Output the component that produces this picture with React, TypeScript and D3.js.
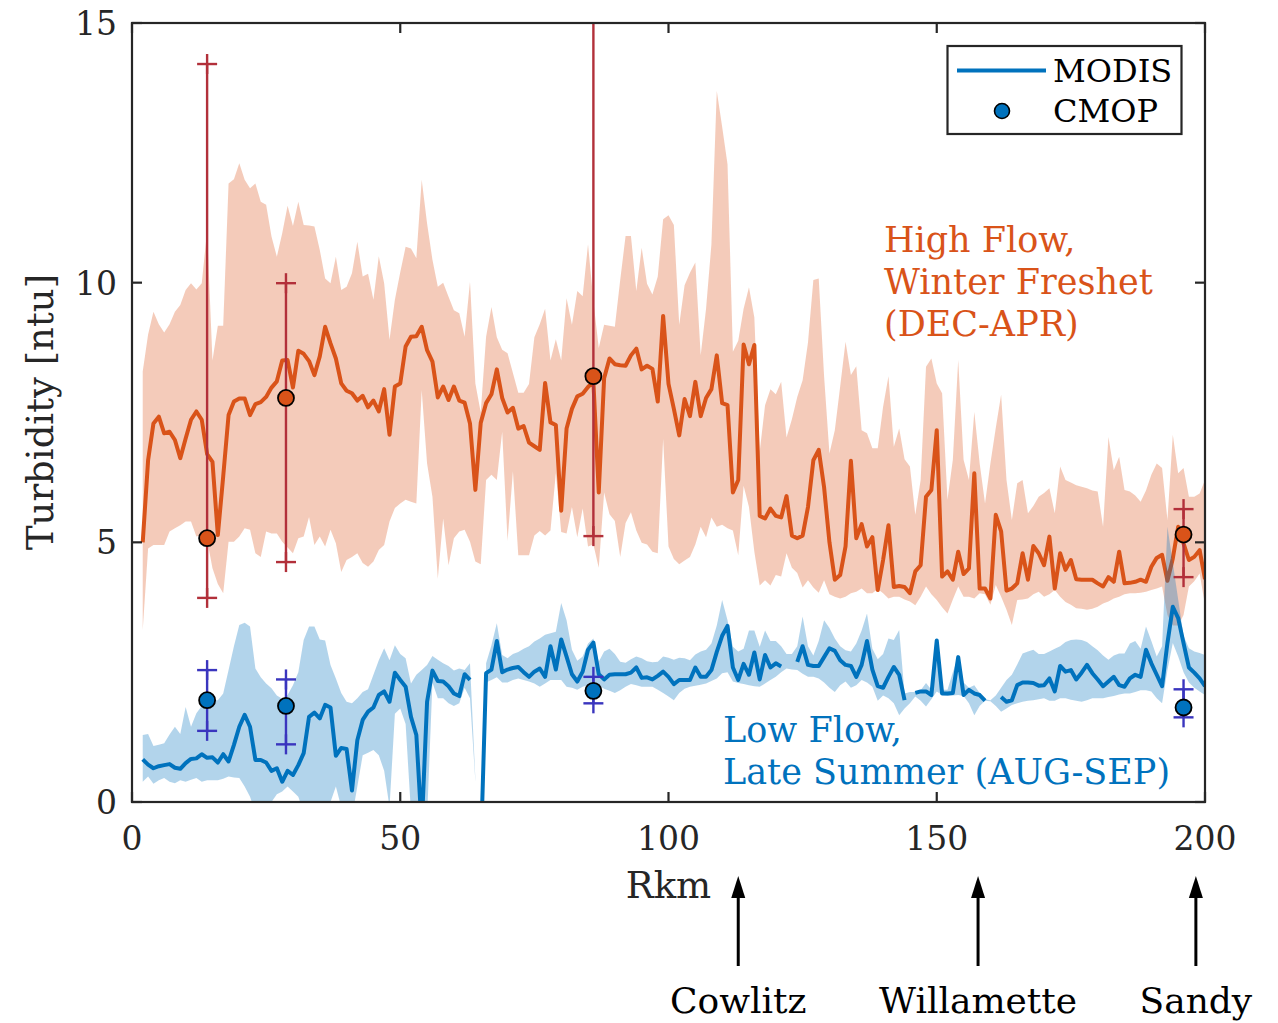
import React from "react";
import * as d3 from "d3";

// River kilometre of each MODIS sample (x positions of the series below)
const RKM: number[] = d3.range(2, 201);

// High flow (DEC-APR) MODIS mean and band
const HIGH_MEAN = [
  5.0, 6.58, 7.29, 7.42, 7.1, 7.13, 6.97, 6.62, 7.0, 7.36,
  7.52, 7.36, 6.7, 6.55, 5.14, 6.27, 7.45, 7.71, 7.77, 7.77,
  7.45, 7.66, 7.7, 7.8, 7.98, 8.1, 8.5, 8.51, 7.98, 8.69,
  8.63, 8.49, 8.22, 8.58, 9.15, 8.83, 8.54, 8.06, 7.92, 7.87,
  7.73, 7.82, 7.6, 7.73, 7.52, 7.95, 7.07, 8.0, 8.06, 8.77,
  8.96, 8.97, 9.15, 8.7, 8.48, 7.79, 8.0, 7.74, 8.0, 7.73,
  7.69, 7.29, 6.01, 7.3, 7.68, 7.85, 8.33, 7.78, 7.5, 7.59,
  7.19, 7.24, 6.92, 6.85, 6.78, 8.07, 7.31, 7.26, 5.61, 7.19,
  7.57, 7.81, 7.86, 7.99, 8.09, 5.96, 8.16, 8.54, 8.43, 8.41,
  8.4, 8.6, 8.73, 8.33, 8.4, 8.34, 7.71, 9.36, 8.05, 7.57,
  7.06, 7.76, 7.43, 8.09, 7.43, 7.78, 7.95, 8.6, 7.68, 7.64,
  5.96, 6.2, 8.81, 8.43, 8.8, 5.51, 5.46, 5.65, 5.51, 5.48,
  5.89, 5.13, 5.08, 5.13, 5.68, 6.58, 6.78, 6.06, 5.0, 4.28,
  4.37, 4.92, 6.57, 5.08, 5.35, 4.92, 5.1, 4.08, 4.66, 5.33,
  4.14, 4.16, 4.14, 4.02, 4.44, 4.56, 5.88, 6.01, 7.16, 4.34,
  4.44, 4.28, 4.82, 4.39, 4.5, 6.33, 4.11, 4.11, 3.92, 5.53,
  5.21, 4.07, 4.11, 4.21, 4.79, 4.28, 4.93, 4.79, 4.56, 5.11,
  4.11, 4.79, 4.47, 4.66, 4.29, 4.28, 4.28, 4.28, 4.21, 4.15,
  4.33, 4.24, 4.82, 4.21, 4.22, 4.24, 4.28, 4.24, 4.53, 4.7,
  4.76, 4.26, 4.69, 5.3, 4.98, 4.66, 4.72, 4.85, 4.29,
];
const HIGH_UPPER = [
  8.29, 9.0, 9.44, 9.2, 9.04, 9.2, 9.44, 9.57, 9.86, 9.99,
  9.87, 9.99, 11.0, 8.5, 9.17, 9.17, 11.91, 11.99, 12.3, 11.98,
  11.82, 11.91, 11.56, 11.5, 10.89, 10.5, 10.95, 11.48, 11.09, 11.56,
  11.11, 11.1, 11.08, 10.63, 10.08, 9.99, 10.5, 9.86, 9.92, 10.18,
  10.79, 10.12, 10.17, 9.67, 10.51, 9.99, 8.9, 9.67, 10.2, 10.69,
  10.66, 10.47, 11.98, 11.14, 10.44, 9.92, 10.0, 9.73, 9.47, 9.41,
  8.96, 10.02, 8.06, 7.5, 8.96, 9.53, 8.95, 8.71, 8.64, 8.26,
  7.88, 7.88, 8.05, 8.95, 9.2, 9.5, 8.5, 8.91, 8.5, 9.7,
  9.19, 9.84, 9.74, 10.74, 9.64, 8.74, 9.19, 9.17, 9.15, 10.05,
  10.9, 10.9, 9.84, 10.67, 9.98, 9.77, 10.12, 11.22, 11.3, 11.11,
  9.19, 9.95, 10.19, 10.39, 8.6, 9.5, 10.74, 13.69, 13.0, 12.28,
  8.67, 8.88, 9.5, 9.91, 9.33, 6.75, 7.64, 7.95, 7.85, 8.09,
  7.02, 7.37, 7.8, 8.12, 8.85, 10.05, 10.08, 8.2, 6.71, 7.16,
  8.0, 8.86, 8.22, 8.39, 7.16, 7.1, 6.81, 6.81, 7.61, 8.2,
  6.84, 7.19, 6.6, 6.46, 5.53, 6.2, 8.38, 8.54, 8.06, 7.87,
  5.82, 6.59, 8.51, 6.59, 6.2, 7.51, 6.52, 5.75, 6.52, 7.2,
  7.84, 6.2, 5.43, 6.14, 6.2, 5.56, 5.7, 5.88, 5.95, 6.04,
  5.56, 6.46, 6.2, 6.15, 6.1, 6.07, 6.04, 6.0, 5.98, 5.3,
  7.03, 6.39, 6.65, 6.01, 5.98, 5.9, 5.78, 6.0, 6.3, 6.52,
  6.43, 5.43, 7.07, 6.33, 6.43, 5.88, 5.88, 5.94, 6.2,
];
const HIGH_LOWER = [
  3.31, 4.88, 4.95, 4.95, 4.95, 5.21, 5.27, 5.33, 5.4, 5.4,
  5.11, 5.14, 5.05, 4.5, 4.2, 4.02, 5.01, 5.01, 5.11, 5.27,
  5.24, 4.79, 4.72, 5.21, 5.17, 5.17, 5.01, 4.9, 4.79, 5.08,
  5.11, 5.49, 4.95, 5.11, 4.92, 5.24, 4.98, 4.43, 4.66, 4.72,
  4.79, 4.6, 4.53, 4.63, 4.85, 4.95, 5.4, 5.66, 5.75, 5.82,
  5.78, 5.75, 7.93, 6.52, 5.88, 4.3, 5.46, 4.56, 5.08, 5.21,
  5.24, 5.01, 4.63, 4.58, 6.2, 6.3, 6.2, 7.13, 5.03, 6.37,
  4.75, 4.75, 4.75, 5.13, 5.22, 5.13, 5.23, 6.33, 5.2, 5.17,
  5.68, 5.1, 5.65, 4.92, 4.96, 4.51, 5.96, 5.54, 5.41, 4.72,
  5.37, 5.58, 5.23, 4.99, 4.96, 4.82, 4.79, 6.99, 4.92, 4.68,
  4.58, 4.65, 4.72, 4.96, 5.3, 5.1, 5.48, 5.3, 5.34, 5.27,
  5.23, 4.75, 6.09, 5.68, 4.82, 4.17, 4.27, 4.17, 4.37, 4.34,
  4.79, 4.51, 4.41, 4.13, 4.27, 4.13, 4.03, 4.27, 4.0, 3.95,
  3.92, 3.95, 4.02, 4.05, 4.11, 4.02, 4.02, 4.1, 4.02, 3.92,
  3.95, 3.95, 3.9, 3.86, 3.79, 3.95, 4.15, 4.0, 3.89, 3.75,
  3.63, 3.9, 4.15, 3.95, 3.95, 3.92, 4.02, 4.0, 3.8, 4.18,
  3.95, 3.7, 3.41, 3.89, 3.9, 3.92, 4.0, 4.05, 3.95, 4.0,
  4.08, 3.95, 3.85, 3.8, 3.73, 3.72, 3.7, 3.72, 3.76, 3.82,
  3.86, 3.92, 3.95, 4.0, 4.02, 4.02, 4.03, 4.05, 4.08, 4.11,
  4.15, 3.6, 3.4, 3.4, 3.6, 4.15, 4.25, 4.4, 3.8,
];

// Low flow (AUG-SEP) MODIS mean and band (null = no data)
const LOW_MEAN: (number | null)[] = [
  0.82, 0.72, 0.65, 0.69, 0.71, 0.73, 0.66, 0.64, 0.75, 0.83,
  0.84, 0.92, 0.85, 0.86, 0.76, 0.92, 0.78, 1.1, 1.45, 1.68,
  1.45, 0.81, 0.81, 0.76, 0.6, 0.65, 0.39, 0.6, 0.52, 0.71,
  0.94, 1.64, 1.72, 1.61, 1.87, 1.82, 0.89, 1.04, 1.02, 0.22,
  1.19, 1.58, 1.74, 1.82, 2.06, 2.13, 1.93, 2.49, 2.35, 2.22,
  1.64, 1.29, -0.5, 1.93, 2.53, 2.33, 2.32, 2.23, 2.09, 2.04,
  2.46, 2.35, null, -1.0, 2.48, 2.55, 3.1, 2.5, 2.55, 2.58,
  2.6, 2.5, 2.41, 2.51, 2.57, 2.41, 3.0, 2.55, 3.13, 2.8,
  2.46, 2.32, 2.51, 2.93, 3.07, 2.46, 2.36, 2.45, 2.46, 2.46,
  2.46, 2.49, 2.59, 2.39, 2.4, 2.36, 2.43, 2.51, 2.41, 2.27,
  2.35, 2.35, 2.35, 2.59, 2.41, 2.41, 2.54, 2.89, 3.2, 3.39,
  2.59, 2.35, 2.66, 2.45, 2.88, 2.36, 2.83, 2.59, 2.67, 2.61,
  null, null, 2.7, 3.0, 2.64, 2.62, 2.62, 2.79, 2.96, 2.91,
  2.73, 2.64, 2.62, 2.41, 2.64, 3.1, 2.55, 2.23, 2.2, 2.41,
  2.6, 2.45, 1.96, null, 2.1, 2.13, 2.13, 2.06, 3.11, 2.09,
  2.09, 2.1, 2.79, 2.06, 2.16, 2.09, 2.06, 1.95, null, null,
  2.02, 1.93, 1.96, 2.25, 2.3, 2.3, 2.29, 2.24, 2.25, 2.38,
  2.13, 2.62, 2.51, 2.54, 2.36, 2.49, 2.64, 2.48, 2.36, 2.23,
  2.32, 2.41, 2.25, 2.22, 2.38, 2.45, 2.41, 2.93, 2.67, 2.45,
  2.23, 3.06, 3.76, 3.54, 3.06, 2.59, 2.49, 2.38, 2.23,
];
const LOW_UPPER: (number | null)[] = [
  1.29, 1.31, 1.08, 1.1, 1.13, 1.3, 1.45, 1.31, 1.83, 1.45,
  1.71, 1.85, 1.95, 1.96, 1.96, 2.09, 2.54, 3.0, 3.41, 3.45,
  3.38, 2.57, 2.4, 2.28, 2.19, 2.05, 1.99, 2.06, 2.25, 2.5,
  3.12, 3.38, 3.38, 3.13, 3.11, 2.64, 2.38, 2.1, 1.93, 1.9,
  2.0, 2.12, 2.17, 2.45, 2.73, 2.96, 2.73, 3.02, 2.85, 2.77,
  2.28, 2.45, 2.54, 2.64, 2.81, 2.74, 2.67, 2.62, 2.53, 2.57,
  2.54, 2.67, 0.45, null, 2.67, 3.02, 3.44, 2.83, 2.77, 2.85,
  2.89, 2.95, 3.0, 3.09, 3.15, 3.22, 3.25, 3.28, 3.83, 3.5,
  2.93, 2.72, 2.8, 3.05, 3.15, 2.7, 2.9, 2.95, 2.85, 2.7,
  2.68, 2.75, 2.8, 2.77, 2.71, 2.69, 2.7, 2.8, 2.78, 2.74,
  2.78, 2.77, 2.73, 2.84, 2.9, 2.93, 3.05, 3.4, 3.89, 3.5,
  2.99, 2.9, 2.95, 3.3, 3.3, 2.99, 3.3, 3.1, 3.1, 3.0,
  2.85, 2.85, 3.0, 3.57, 3.0, 2.82, 3.1, 3.5, 3.35, 3.15,
  3.0, 2.92, 2.9, 3.05, 3.3, 3.63, 2.95, 2.75, 2.85, 3.15,
  3.12, 3.31, 2.09, 2.12, 2.12, 2.15, 2.29, 2.16, 3.12, 2.16,
  2.16, 2.5, 2.8, 2.3, 2.2, 2.25, 2.1, 1.98, 1.96, 2.05,
  2.2, 2.35, 2.45, 2.65, 2.86, 2.9, 2.93, 2.85, 2.85, 2.9,
  2.95, 3.0, 3.08, 3.12, 3.13, 3.12, 3.08, 3.0, 2.92, 2.82,
  2.74, 2.82, 2.86, 2.86, 3.05, 3.1, 2.95, 3.38, 3.1, 2.8,
  3.0, 5.3, 4.6, 3.9, 3.2, 2.96, 2.9, 2.87, 2.83,
];
const LOW_LOWER: (number | null)[] = [
  0.39, 0.49, 0.35, 0.42, 0.46, 0.39, 0.36, 0.42, 0.39, 0.43,
  0.46, 0.39, 0.42, 0.42, 0.42, 0.45, 0.49, 0.47, 0.46, 0.3,
  0.1, -0.2, -0.3, -0.2, 0.0, 0.15, 0.2, 0.3, 0.2, 0.1,
  -0.2, -0.3, -0.2, -0.2, -0.1, 0.0, 0.3, -0.1, -0.2, -0.3,
  0.3, 0.9, 0.95, 1.0, 0.9, 0.6, -0.1, 1.7, 1.8, 1.5,
  -0.2, -0.3, -0.5, -0.3, 2.3, 2.0, 2.0, 1.9, 1.85, 1.9,
  2.2, 2.0, 0.4, null, 2.3, 2.35, 2.4, 2.3, 2.3, 2.35,
  2.38, 2.35, 2.32, 2.28, 2.22, 2.28, 2.35, 2.35, 2.35, 2.22,
  2.2, 2.16, 2.22, 2.25, 2.27, 2.25, 2.18, 2.14, 2.1, 2.15,
  2.22, 2.27, 2.25, 2.22, 2.22, 2.22, 2.16, 2.1, 2.03, 1.96,
  2.1, 2.18, 2.22, 2.24, 2.26, 2.28, 2.33, 2.38, 2.48, 2.5,
  2.32, 2.29, 2.27, 2.25, 2.23, 2.22, 2.28, 2.35, 2.41, 2.5,
  2.57, 2.55, 2.54, 2.47, 2.41, 2.41, 2.38, 2.3, 2.2, 2.12,
  2.25, 2.32, 2.2, 2.25, 2.35, 2.3, 2.22, 1.95, 2.05, 2.0,
  1.9, 1.67, 1.8, 1.9, 2.03, 1.95, 1.84, 1.98, 2.13, 2.06,
  2.04, 2.05, 2.06, 2.04, 1.9, 1.67, 1.85, 1.95, 1.94, 1.85,
  1.74, 1.8, 1.87, 1.9, 1.93, 1.95, 1.96, 1.98, 2.0, 1.95,
  1.95, 2.0, 2.0, 1.97, 1.95, 1.93, 1.96, 2.0, 2.0, 2.0,
  2.02, 2.04, 2.07, 2.09, 2.09, 2.12, 2.15, 2.15, 2.13, 2.0,
  1.9, 2.54, 3.06, 2.8, 2.5, 2.3, 2.2, 2.13, 2.06,
];

// CMOP in-situ stations
const CMOP_RKM = [14, 28.7, 86, 196];
const CMOP_HIGH = [5.08, 7.78, 8.2, 5.15];
const CMOP_HIGH_LO = [3.93, 4.62, 5.12, 4.33];
const CMOP_HIGH_HI = [14.21, 9.99, 16.5, 5.64];
const CMOP_LOW = [1.96, 1.85, 2.14, 1.82];
const CMOP_LOW_LO = [1.37, 1.11, 1.9, 1.63];
const CMOP_LOW_HI = [2.54, 2.36, 2.41, 2.17];

// Axes
const X_TICKS = [0, 50, 100, 150, 200];
const Y_TICKS = [0, 5, 10, 15];

// Tributaries
const TRIB_NAMES = ["Cowlitz", "Willamette", "Sandy"];
const TRIB_RKM = [113, 157.7, 198.3];

const ORANGE = "#D95319";
const BLUE = "#0072BD";
const RED_EB = "#B2303A";
const BLUE_EB = "#3A35BE";
const AX = "#262626";
const FONT = "'DejaVu Serif', serif";

export default function App() {
  const W = 1278, H = 1023;
  const L = 132, R = 1205, T = 23, B = 802;
  const x = d3.scaleLinear().domain([0, 200]).range([L, R]);
  const y = d3.scaleLinear().domain([0, 15]).range([B, T]);

  type P = { r: number; v: number | null; lo: number | null; hi: number | null };
  const high: P[] = RKM.map((r, i) => ({ r, v: HIGH_MEAN[i], lo: HIGH_LOWER[i], hi: HIGH_UPPER[i] }));
  const low: P[] = RKM.map((r, i) => ({ r, v: LOW_MEAN[i], lo: LOW_LOWER[i], hi: LOW_UPPER[i] }));

  const line = d3
    .line<P>()
    .defined((d) => d.v != null)
    .x((d) => x(d.r))
    .y((d) => y(d.v as number));
  const area = d3
    .area<P>()
    .defined((d) => d.lo != null && d.hi != null)
    .x((d) => x(d.r))
    .y0((d) => y(d.lo as number))
    .y1((d) => y(d.hi as number));

  const plus = (cx: number, cy: number, color: string, key: string) => (
    <g key={key} stroke={color} strokeWidth={2.4}>
      <line x1={cx - 10} x2={cx + 10} y1={cy} y2={cy} />
      <line x1={cx} x2={cx} y1={cy - 10} y2={cy + 10} />
    </g>
  );

  const errBars = (vals: number[], lo: number[], hi: number[], color: string, fill: string, k: string) =>
    CMOP_RKM.map((r, i) => {
      const cx = x(r);
      return (
        <g key={k + i}>
          <line x1={cx} x2={cx} y1={y(lo[i])} y2={y(hi[i])} stroke={color} strokeWidth={2.4} />
          {plus(cx, y(lo[i]), color, "l")}
          {plus(cx, y(hi[i]), color, "h")}
          <circle cx={cx} cy={y(vals[i])} r={8} fill={fill} stroke="#000" strokeWidth={1.8} />
        </g>
      );
    });

  return (
    <svg
      width={W}
      height={H}
      style={{ position: "absolute", left: 0, top: 0, display: "block", background: "#fff" }}
      fontFamily={FONT}
    >
      <defs>
        <clipPath id="plotclip">
          <rect x={L} y={T} width={R - L} height={B - T} />
        </clipPath>
      </defs>
      <rect x={0} y={0} width={W} height={H} fill="#fff" />

      <g clipPath="url(#plotclip)">
        <path d={area(high) || ""} fill={ORANGE} fillOpacity={0.3} stroke="none" />
        <path d={line(high) || ""} fill="none" stroke={ORANGE} strokeWidth={4} strokeLinejoin="round" />
        <path d={area(low) || ""} fill={BLUE} fillOpacity={0.3} stroke="none" />
        <path d={line(low) || ""} fill="none" stroke={BLUE} strokeWidth={4} strokeLinejoin="round" />
        {errBars(CMOP_HIGH, CMOP_HIGH_LO, CMOP_HIGH_HI, RED_EB, ORANGE, "h")}
        {errBars(CMOP_LOW, CMOP_LOW_LO, CMOP_LOW_HI, BLUE_EB, BLUE, "b")}
      </g>

      {/* axes box and ticks */}
      <rect x={L} y={T} width={R - L} height={B - T} fill="none" stroke={AX} strokeWidth={2.2} />
      {X_TICKS.map((t) => (
        <g key={"xt" + t} stroke={AX} strokeWidth={2.2}>
          <line x1={x(t)} x2={x(t)} y1={B} y2={B - 10} />
          <line x1={x(t)} x2={x(t)} y1={T} y2={T + 10} />
        </g>
      ))}
      {Y_TICKS.map((t) => (
        <g key={"yt" + t} stroke={AX} strokeWidth={2.2}>
          <line x1={L} x2={L + 10} y1={y(t)} y2={y(t)} />
          <line x1={R} x2={R - 10} y1={y(t)} y2={y(t)} />
        </g>
      ))}
      {X_TICKS.map((t) => (
        <text key={"xl" + t} x={x(t)} y={850} textAnchor="middle" fontSize={33} fill={AX}>
          {t}
        </text>
      ))}
      {Y_TICKS.map((t) => (
        <text key={"yl" + t} x={117} y={y(t) + 12} textAnchor="end" fontSize={33} fill={AX}>
          {t}
        </text>
      ))}
      <text x={x(100)} y={898} textAnchor="middle" fontSize={37} fill={AX}>
        Rkm
      </text>
      <text transform={`translate(53,412) rotate(-90)`} textAnchor="middle" fontSize={37} fill={AX}>
        Turbidity [ntu]
      </text>

      {/* annotations */}
      <g fill={ORANGE} fontSize={35}>
        <text x={884} y={252}>High Flow,</text>
        <text x={884} y={294}>Winter Freshet</text>
        <text x={884} y={336}>(DEC-APR)</text>
      </g>
      <g fill={BLUE} fontSize={35}>
        <text x={723} y={742}>Low Flow,</text>
        <text x={723} y={784}>Late Summer (AUG-SEP)</text>
      </g>

      {/* legend */}
      <rect x={947.5} y={46} width={234} height={88} fill="#fff" stroke={AX} strokeWidth={2.2} />
      <line x1={957} x2={1046} y1={70.5} y2={70.5} stroke={BLUE} strokeWidth={4} />
      <circle cx={1002} cy={111} r={7.5} fill={BLUE} stroke="#000" strokeWidth={1.6} />
      <text x={1053} y={82} fontSize={32} fill="#000">MODIS</text>
      <text x={1053} y={122} fontSize={32} fill="#000">CMOP</text>

      {/* tributaries */}
      {TRIB_NAMES.map((n, i) => {
        const cx = x(TRIB_RKM[i]);
        return (
          <g key={n}>
            <line x1={cx} x2={cx} y1={966} y2={895} stroke="#000" strokeWidth={3} />
            <path d={`M${cx},876 L${cx - 7},898 L${cx + 7},898 Z`} fill="#000" />
            <text x={cx} y={1013} textAnchor="middle" fontSize={36} fill="#000">
              {n}
            </text>
          </g>
        );
      })}
    </svg>
  );
}
